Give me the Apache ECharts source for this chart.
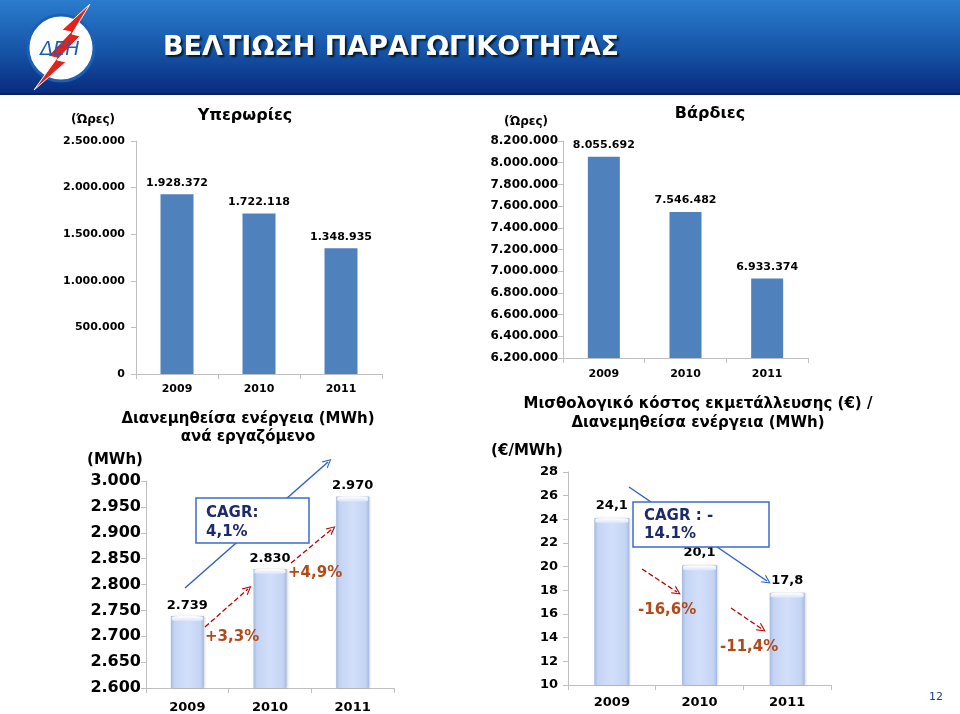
<!DOCTYPE html>
<html>
<head>
<meta charset="utf-8">
<script src="https://cdn.jsdelivr.net/npm/echarts@6/dist/echarts.min.js"></script>
<style>
html,body{margin:0;padding:0;background:#fff;}
#main{width:960px;height:714px;}
</style>
</head>
<body>
<div id="main"></div>
<script>
// ---- Data ----
const years = ['2009', '2010', '2011'];
const overtimeHours = [1928372, 1722118, 1348935];
const shiftHours = [8055692, 7546482, 6933374];
const energyPerEmployee = [2739, 2830, 2970];
const costPerMWh = [24.1, 20.1, 17.8];

const overtimeAxis = { min: 0, max: 2500000, interval: 500000 };
const shiftAxis = { min: 6200000, max: 8200000, interval: 200000 };
const energyAxis = { min: 2600, max: 3000, interval: 50 };
const costAxis = { min: 10, max: 28, interval: 2 };

const headerTitle = 'ΒΕΛΤΙΩΣΗ ΠΑΡΑΓΩΓΙΚΟΤΗΤΑΣ';
const titles = {
  overtime: 'Υπερωρίες',
  shifts: 'Βάρδιες',
  energy: ['Διανεμηθείσα ενέργεια (MWh)', 'ανά εργαζόμενο'],
  cost: ['Μισθολογικό κόστος εκμετάλλευσης (€) /', 'Διανεμηθείσα ενέργεια (MWh)']
};
const units = { overtime: '(Ώρες)', shifts: '(Ώρες)', energy: '(MWh)', cost: '(€/MWh)' };
const energyChanges = ['+3,3%', '+4,9%'];
const costChanges = ['-16,6%', '-11,4%'];
const energyCagr = ['CAGR:', '4,1%'];
const costCagr = ['CAGR : -', '14.1%'];
const pageNumber = '12';

// ---- Helpers ----
const FONT = 'DejaVu Sans';
function fmtDot(v) { return String(Math.round(v)).replace(/\B(?=(\d{3})+(?!\d))/g, '.'); }
function fmtComma(v) { return v.toFixed(1).replace('.', ','); }

const axisGray = '#bfbfbf';
function xAx(gridIndex, fontSize, margin) {
  return {
    type: 'category', gridIndex, data: years,
    axisLine: { lineStyle: { color: axisGray } },
    axisTick: { show: true, alignWithLabel: false, length: 5, lineStyle: { color: axisGray } },
    axisLabel: { color: '#000', fontFamily: FONT, fontWeight: 'bold', fontSize, margin }
  };
}
function yAx(gridIndex, ax, fontSize, margin, fmt) {
  return {
    type: 'value', gridIndex, min: ax.min, max: ax.max, interval: ax.interval,
    axisLine: { show: true, lineStyle: { color: axisGray } },
    axisTick: { show: true, length: 5, lineStyle: { color: axisGray } },
    splitLine: { show: false },
    axisLabel: { color: '#000', fontFamily: FONT, fontWeight: 'bold', fontSize, margin, formatter: fmt }
  };
}

const paleBar = {
  type: 'linear', x: 0, y: 0, x2: 1, y2: 0,
  colorStops: [
    { offset: 0, color: '#a3b9e2' },
    { offset: 0.1, color: '#c3d4f3' },
    { offset: 0.5, color: '#d2dffa' },
    { offset: 0.9, color: '#c3d4f3' },
    { offset: 1, color: '#a3b9e2' }
  ]
};
const capColor = {
  type: 'linear', x: 0, y: 0, x2: 0, y2: 1,
  colorStops: [{ offset: 0, color: '#ffffff' }, { offset: 1, color: '#d9e4fa' }]
};

const blueArrowStyle = { color: '#2f62c9', width: 1.5, type: 'solid' };
const redArrowStyle = { color: '#c00000', width: 1.3, type: 'dashed' };
const chevron = 'path://M0,10 L5,0 L10,10 L8.6,10 L5,2.6 L1.4,10 Z';
function arrow(p1, p2, style) {
  return [{ x: p1[0], y: p1[1], lineStyle: style }, { x: p2[0], y: p2[1] }];
}

const chart = echarts.init(document.getElementById('main'), null, { renderer: 'canvas' });

const graphics = [
  // header bar
  { type: 'rect', shape: { x: 0, y: 0, width: 960, height: 95 },
    style: { fill: { type: 'linear', x: 0, y: 0, x2: 0, y2: 1,
      colorStops: [{ offset: 0, color: '#2b7cce' }, { offset: 0.55, color: '#1553a6' }, { offset: 1, color: '#082a7c' }] } } },
  { type: 'rect', shape: { x: 0, y: 93, width: 960, height: 2 }, style: { fill: '#0a1f5c' } },
  // logo
  { type: 'circle', shape: { cx: 61, cy: 48, r: 33 }, style: { fill: '#ffffff', stroke: '#1d5fb5', lineWidth: 3 }, z: 10 },
  { type: 'text', x: 60, y: 50, z: 12,
    style: { text: 'ΔΕΗ', fill: '#1d5fb5', font: 'italic 19px "DejaVu Sans"', align: 'center', verticalAlign: 'middle' } },
  { type: 'polygon', z: 11,
    shape: { points: [[90, 4], [62, 30], [71, 32], [48, 56], [57, 58], [34, 90], [66, 62], [57, 60], [80, 36], [72, 34]] },
    style: { fill: '#e3231b', stroke: '#ffffff', lineWidth: 1 } },
  { type: 'text', x: 163, y: 48, z: 10,
    style: { text: headerTitle, fill: '#ffffff', font: 'bold 27px "DejaVu Sans"', verticalAlign: 'middle',
      textShadowColor: 'rgba(0,0,0,0.75)', textShadowBlur: 2, textShadowOffsetX: 2, textShadowOffsetY: 2 } },

  // chart titles & units
  { type: 'text', x: 245, y: 116, style: { text: titles.overtime, fill: '#000', font: 'bold 16px "DejaVu Sans"', align: 'center', verticalAlign: 'middle' } },
  { type: 'text', x: 93, y: 120, style: { text: units.overtime, fill: '#000', font: 'bold 12px "DejaVu Sans"', align: 'center', verticalAlign: 'middle' } },
  { type: 'text', x: 710, y: 114, style: { text: titles.shifts, fill: '#000', font: 'bold 16px "DejaVu Sans"', align: 'center', verticalAlign: 'middle' } },
  { type: 'text', x: 526, y: 122, style: { text: units.shifts, fill: '#000', font: 'bold 12px "DejaVu Sans"', align: 'center', verticalAlign: 'middle' } },
  { type: 'text', x: 248, y: 419, style: { text: titles.energy[0], fill: '#000', font: 'bold 15px "DejaVu Sans"', align: 'center', verticalAlign: 'middle' } },
  { type: 'text', x: 248, y: 437, style: { text: titles.energy[1], fill: '#000', font: 'bold 15px "DejaVu Sans"', align: 'center', verticalAlign: 'middle' } },
  { type: 'text', x: 115, y: 460, style: { text: units.energy, fill: '#000', font: 'bold 15px "DejaVu Sans"', align: 'center', verticalAlign: 'middle' } },
  { type: 'text', x: 698, y: 404, style: { text: titles.cost[0], fill: '#000', font: 'bold 15px "DejaVu Sans"', align: 'center', verticalAlign: 'middle' } },
  { type: 'text', x: 698, y: 423, style: { text: titles.cost[1], fill: '#000', font: 'bold 15px "DejaVu Sans"', align: 'center', verticalAlign: 'middle' } },
  { type: 'text', x: 527, y: 451, style: { text: units.cost, fill: '#000', font: 'bold 15px "DejaVu Sans"', align: 'center', verticalAlign: 'middle' } },

  // CAGR boxes
  { type: 'rect', z: 100, shape: { x: 196, y: 498, width: 113, height: 45 }, style: { fill: '#ffffff', stroke: '#3a6bd0', lineWidth: 1.5 } },
  { type: 'text', z: 101, x: 206, y: 513, style: { text: energyCagr[0], fill: '#1b2a6b', font: 'bold 15px "DejaVu Sans"', verticalAlign: 'middle' } },
  { type: 'text', z: 101, x: 206, y: 532, style: { text: energyCagr[1], fill: '#1b2a6b', font: 'bold 15px "DejaVu Sans"', verticalAlign: 'middle' } },
  { type: 'rect', z: 100, shape: { x: 633, y: 502, width: 136, height: 45 }, style: { fill: '#ffffff', stroke: '#3a6bd0', lineWidth: 1.5 } },
  { type: 'text', z: 101, x: 644, y: 516, style: { text: costCagr[0], fill: '#1b2a6b', font: 'bold 15px "DejaVu Sans"', verticalAlign: 'middle' } },
  { type: 'text', z: 101, x: 644, y: 534, style: { text: costCagr[1], fill: '#1b2a6b', font: 'bold 15px "DejaVu Sans"', verticalAlign: 'middle' } },

  // change labels
  { type: 'text', z: 50, x: 205, y: 637, style: { text: energyChanges[0], fill: '#b04a1a', font: 'bold 15px "DejaVu Sans"', verticalAlign: 'middle' } },
  { type: 'text', z: 50, x: 288, y: 573, style: { text: energyChanges[1], fill: '#b04a1a', font: 'bold 15px "DejaVu Sans"', verticalAlign: 'middle' } },
  { type: 'text', z: 50, x: 638, y: 610, style: { text: costChanges[0], fill: '#b04a1a', font: 'bold 15px "DejaVu Sans"', verticalAlign: 'middle' } },
  { type: 'text', z: 50, x: 720, y: 647, style: { text: costChanges[1], fill: '#b04a1a', font: 'bold 15px "DejaVu Sans"', verticalAlign: 'middle' } },

  // page number
  { type: 'text', x: 936, y: 697, style: { text: pageNumber, fill: '#1f3f8f', font: '11px "DejaVu Sans"', align: 'center', verticalAlign: 'middle' } }
];

const option = {
  animation: false,
  backgroundColor: '#ffffff',
  grid: [
    { left: 136, top: 141, width: 246, height: 233 },
    { left: 563, top: 141, width: 245, height: 217 },
    { left: 146, top: 481, width: 248, height: 209 },
    { left: 568, top: 472, width: 263, height: 213 }
  ],
  xAxis: [
    xAx(0, 11, 10),
    xAx(1, 11, 11),
    xAx(2, 13, 13),
    xAx(3, 13, 11)
  ],
  yAxis: [
    yAx(0, overtimeAxis, 11, 11, v => fmtDot(v)),
    yAx(1, shiftAxis, 12, 5, v => fmtDot(v)),
    yAx(2, energyAxis, 16, 5, v => fmtDot(v)),
    yAx(3, costAxis, 13, 10, v => String(v))
  ],
  series: [
    { type: 'bar', xAxisIndex: 0, yAxisIndex: 0, data: overtimeHours, barWidth: 33,
      itemStyle: { color: '#4f81bd' },
      label: { show: true, position: 'top', distance: 6, color: '#000', fontFamily: FONT, fontWeight: 'bold', fontSize: 11, formatter: p => fmtDot(p.value) } },
    { type: 'bar', xAxisIndex: 1, yAxisIndex: 1, data: shiftHours, barWidth: 32,
      itemStyle: { color: '#4f81bd' },
      label: { show: true, position: 'top', distance: 6, color: '#000', fontFamily: FONT, fontWeight: 'bold', fontSize: 11, formatter: p => fmtDot(p.value) } },
    { type: 'bar', xAxisIndex: 2, yAxisIndex: 2, data: energyPerEmployee, barWidth: 33,
      itemStyle: { color: paleBar, shadowColor: 'rgba(0,0,0,0.15)', shadowBlur: 2, shadowOffsetX: 1 },
      label: { show: true, position: 'top', distance: 4, color: '#000', fontFamily: FONT, fontWeight: 'bold', fontSize: 13, formatter: p => fmtDot(p.value) },
      markLine: { silent: true, symbol: ['none', chevron], symbolSize: 9, label: { show: false }, animation: false,
        data: [
          arrow([185, 588], [328, 462], blueArrowStyle),
          arrow([205, 627], [248, 589], redArrowStyle),
          arrow([291, 563], [332, 529], redArrowStyle)
        ] } },
    { type: 'pictorialBar', xAxisIndex: 2, yAxisIndex: 2, data: energyPerEmployee, symbol: 'roundRect',
      symbolSize: [31, 5], symbolPosition: 'end', symbolOffset: [0, 0], z: 5, silent: true,
      itemStyle: { color: capColor } },
    { type: 'bar', xAxisIndex: 3, yAxisIndex: 3, data: costPerMWh, barWidth: 35,
      itemStyle: { color: paleBar, shadowColor: 'rgba(0,0,0,0.15)', shadowBlur: 2, shadowOffsetX: 1 },
      label: { show: true, position: 'top', distance: 6, color: '#000', fontFamily: FONT, fontWeight: 'bold', fontSize: 13, formatter: p => fmtComma(p.value) },
      markLine: { silent: true, symbol: ['none', chevron], symbolSize: 9, label: { show: false }, animation: false,
        data: [
          arrow([629, 487], [767, 581], blueArrowStyle),
          arrow([642, 569], [677, 592], redArrowStyle),
          arrow([731, 608], [762, 629], redArrowStyle)
        ] } },
    { type: 'pictorialBar', xAxisIndex: 3, yAxisIndex: 3, data: costPerMWh, symbol: 'roundRect',
      symbolSize: [33, 5], symbolPosition: 'end', symbolOffset: [0, 0], z: 5, silent: true,
      itemStyle: { color: capColor } }
  ],
  graphic: graphics
};
chart.setOption(option);
</script>
</body>
</html>
